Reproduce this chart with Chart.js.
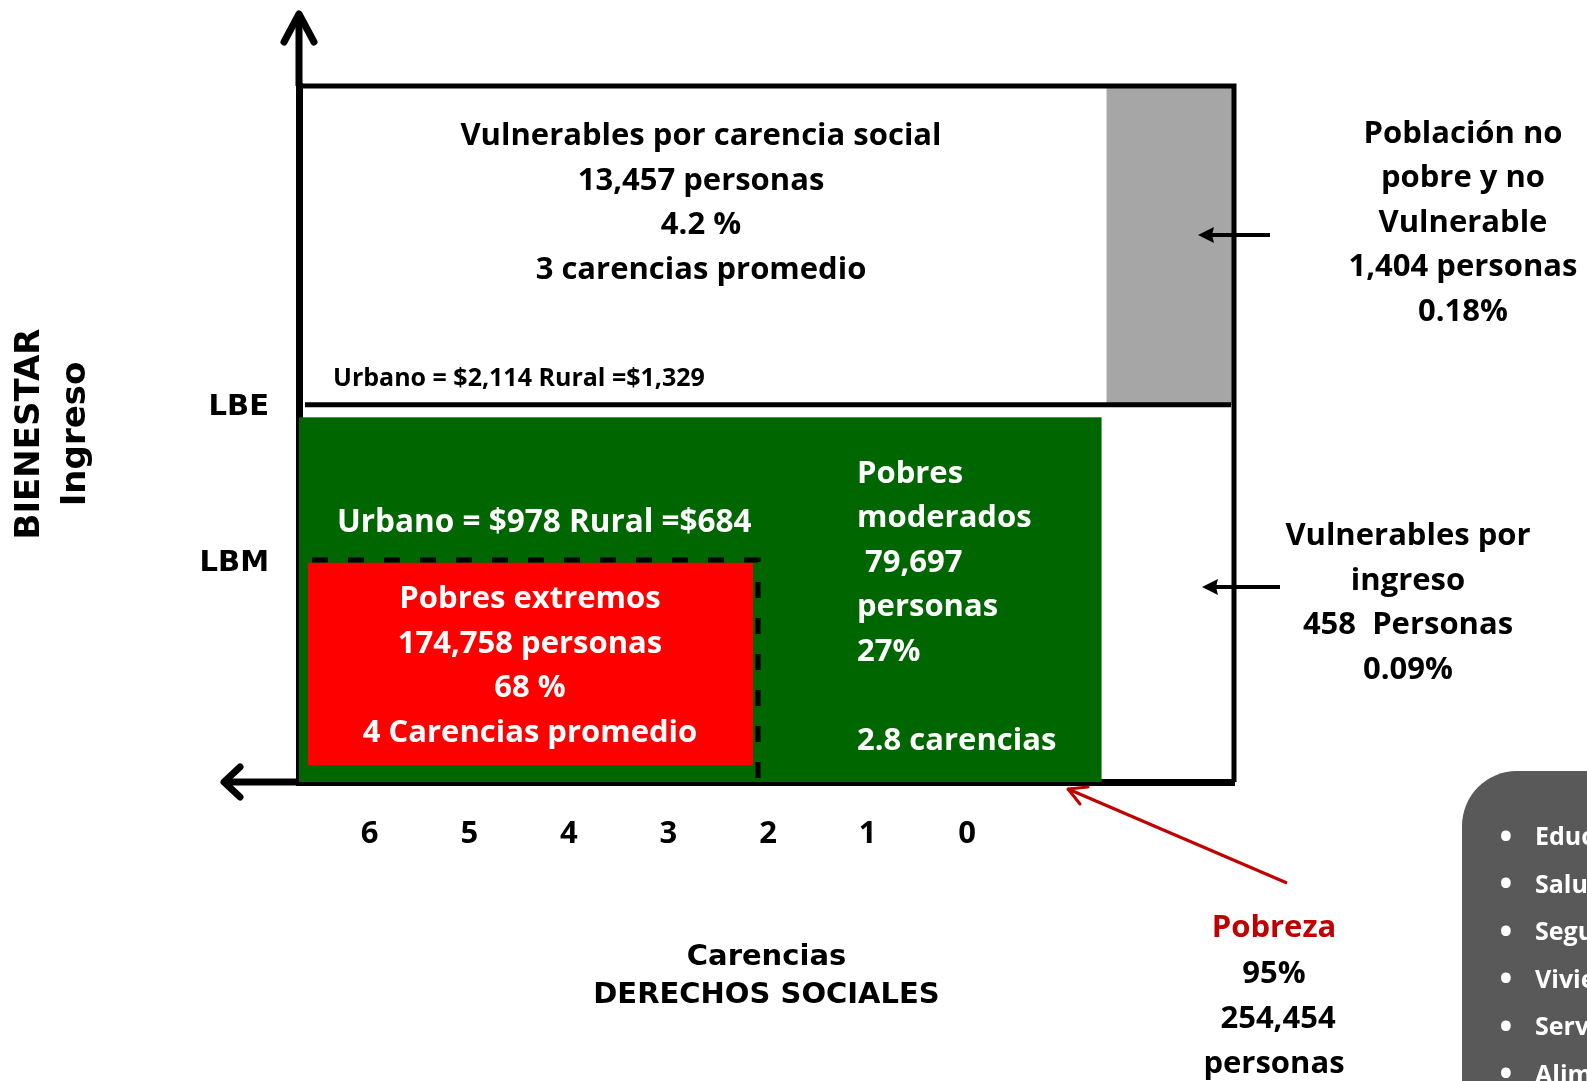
<!DOCTYPE html>
<html>
<head>
<meta charset="utf-8">
<script src="https://cdn.jsdelivr.net/npm/chart.js@4/dist/chart.umd.min.js"></script>
<style>
  html, body { margin: 0; padding: 0; background: #fff; }
  #wrap { width: 1587px; height: 1081px; }
</style>
</head>
<body>
<div id="wrap"><canvas id="chart" width="1587" height="1081"></canvas></div>
<script>
// ejes
const carencias = [6, 5, 4, 3, 2, 1, 0];
const lineasBienestar = ["LBE", "LBM"];
const nivelesIngreso = [54.2, 31.9]; // altura relativa de LBE y LBM en el eje de ingreso

// grupos
const grupos = ["Vulnerables por carencia social", "Pobres extremos", "Pobres moderados", "Población no pobre y no Vulnerable", "Vulnerables por ingreso"];
const personas = ["13,457", "174,758", "79,697", "1,404", "458"];
const porcentajes = ["4.2 %", "68 %", "27%", "0.18%", "0.09%"];
const carenciasPromedio = ["3", "4", "2.8"];
const umbrales = ["Urbano = $2,114 Rural =$1,329", "Urbano = $978 Rural =$684"];
const pobreza = ["95%", "254,454"];
const derechos = ["Educación", "Salud", "Seguridad social", "Vivienda", "Servicios básicos", "Alimentación"];

// zonas del diagrama en unidades de carencias (x) e ingreso (y)
const zonaModerados = { x: [6.71, -1.35], y: [0, 52.4] };
const zonaExtremos = { x: [6.62, 2.15], y: [2.4, 31.5] };
const zonaNoPobre = { x: [-1.40, -2.68], y: [nivelesIngreso[0], 100] };

const MAIN = "'Open Sans', Lato, sans-serif";
const VERD = "'DejaVu Sans', sans-serif";
const FS = 31;

function textLines(ctx, arr, x, y, lh, align, color, size) {
    ctx.save();
    ctx.font = "bold " + size + "px " + MAIN;
    ctx.fillStyle = color;
    ctx.textAlign = align;
    ctx.textBaseline = "middle";
    arr.forEach((t, i) => ctx.fillText(t, x, y + i * lh));
    ctx.restore();
}

function chevron(ctx, tip, a, b, color, width) {
    ctx.save();
    ctx.strokeStyle = color;
    ctx.lineWidth = width;
    ctx.lineCap = "round";
    ctx.lineJoin = "round";
    ctx.beginPath();
    ctx.moveTo(a[0], a[1]);
    ctx.lineTo(tip[0], tip[1]);
    ctx.lineTo(b[0], b[1]);
    ctx.stroke();
    ctx.restore();
}

function rect(ctx, sx, sy, zona, color) {
    const x0 = sx.getPixelForValue(zona.x[0]);
    const x1 = sx.getPixelForValue(zona.x[1]);
    const y0 = sy.getPixelForValue(zona.y[0]);
    const y1 = sy.getPixelForValue(zona.y[1]);
    ctx.fillStyle = color;
    ctx.fillRect(Math.min(x0, x1), Math.min(y0, y1), Math.abs(x1 - x0), Math.abs(y1 - y0));
}

const zonas = {
    id: "zonas",
    beforeDatasetsDraw(chart) {
        const {ctx, scales: {x, y}} = chart;
        ctx.save();
        rect(ctx, x, y, zonaNoPobre, "#a6a6a6");
        rect(ctx, x, y, zonaModerados, "#006600");
        rect(ctx, x, y, zonaExtremos, "#ff0000");
        ctx.restore();
    },
    afterDraw(chart) {
        const {ctx, chartArea: a} = chart;
        ctx.save();
        // extensiones de ejes con flecha
        ctx.strokeStyle = "#000";
        ctx.lineWidth = 7;
        ctx.beginPath();
        ctx.moveTo(a.left, a.top);
        ctx.lineTo(a.left, 14);
        ctx.moveTo(a.left, a.bottom);
        ctx.lineTo(224, a.bottom);
        ctx.stroke();
        chevron(ctx, [a.left, 14], [a.left - 15, 42], [a.left + 15, 42], "#000", 7);
        chevron(ctx, [224, a.bottom], [240, a.bottom - 15], [240, a.bottom + 15], "#000", 7);

        // flechas laterales
        [[1270, 1198, 235], [1280, 1202, 587]].forEach(([x0, x1, yy]) => {
            ctx.strokeStyle = "#000";
            ctx.lineWidth = 4;
            ctx.beginPath();
            ctx.moveTo(x0, yy);
            ctx.lineTo(x1 + 10, yy);
            ctx.stroke();
            ctx.fillStyle = "#000";
            ctx.beginPath();
            ctx.moveTo(x1, yy);
            ctx.lineTo(x1 + 16, yy - 8);
            ctx.lineTo(x1 + 14, yy);
            ctx.lineTo(x1 + 16, yy + 8);
            ctx.closePath();
            ctx.fill();
        });

        // flecha pobreza
        ctx.strokeStyle = "#c00000";
        ctx.lineWidth = 3;
        ctx.beginPath();
        ctx.moveTo(1287, 883);
        ctx.lineTo(1068, 789);
        ctx.stroke();
        chevron(ctx, [1068, 789], [1088, 787], [1080, 804], "#c00000", 3);

        // textos
        textLines(ctx, [grupos[0], personas[0] + " personas", porcentajes[0], carenciasPromedio[0] + " carencias promedio"], 701, 136, 44.7, "center", "#000", FS);
        textLines(ctx, [umbrales[0]], 333, 379, 0, "left", "#000", 25);
        textLines(ctx, [umbrales[1]], 337, 523, 0, "left", "#fff", 31.5);
        textLines(ctx, [grupos[1], personas[1] + " personas", porcentajes[1], carenciasPromedio[1] + " Carencias promedio"], 530, 599, 44.7, "center", "#fff", FS);
        textLines(ctx, ["Pobres", "moderados", " " + personas[2], "personas", porcentajes[2], "", carenciasPromedio[2] + " carencias"], 857, 474, 44.5, "left", "#fff", FS);
        textLines(ctx, ["Población no", "pobre y no", "Vulnerable", personas[3] + " personas", porcentajes[3]], 1463, 134, 44.5, "center", "#000", FS);
        textLines(ctx, ["Vulnerables por", "ingreso", personas[4] + "  Personas", porcentajes[4]], 1408, 536, 44.7, "center", "#000", FS);
        textLines(ctx, ["Pobreza"], 1274, 928, 0, "center", "#c00000", FS);
        textLines(ctx, [pobreza[0], " " + pobreza[1], "personas"], 1274, 974, 45, "center", "#000", FS);

        // recuadro de derechos sociales
        ctx.fillStyle = "#595959";
        ctx.beginPath();
        ctx.roundRect(1462, 771, 200, 400, 55);
        ctx.fill();
        derechos.forEach((d, i) => {
            textLines(ctx, ["•"], 1506, 838 + i * 47.5, 0, "center", "#fff", 34);
            textLines(ctx, [d], 1535, 838 + i * 47.5, 0, "left", "#fff", 25);
        });
        ctx.restore();
    }
};

new Chart(document.querySelector("#chart"), {
    type: "scatter",
    data: {
        datasets: [
            {
                // marco superior y derecho
                type: "line",
                data: [{x: 6.71, y: 100}, {x: -2.68, y: 100}, {x: -2.68, y: 0}],
                borderColor: "#000",
                borderWidth: 5,
                pointRadius: 0,
                clip: false
            },
            {
                // línea de bienestar
                type: "line",
                data: [{x: 6.65, y: nivelesIngreso[0]}, {x: -2.65, y: nivelesIngreso[0]}],
                borderColor: "#000",
                borderWidth: 5,
                pointRadius: 0
            },
            {
                // línea de bienestar mínimo
                type: "line",
                data: [{x: 6.58, y: nivelesIngreso[1]}, {x: 2.10, y: nivelesIngreso[1]}, {x: 2.10, y: 0}],
                borderColor: "#000",
                borderWidth: 5,
                borderDash: [16, 20],
                pointRadius: 0
            }
        ]
    },
    options: {
        responsive: false,
        animation: false,
        layout: { padding: { top: 86, right: 353, left: 0, bottom: 0 } },
        plugins: { legend: { display: false }, tooltip: { enabled: false } },
        scales: {
            x: {
                type: "linear",
                reverse: true,
                min: -2.68,
                max: 6.71,
                afterFit: s => { s.height = 299; },
                afterBuildTicks: s => { s.ticks = carencias.map(v => ({value: v})); },
                grid: { display: false, drawTicks: false },
                border: { display: true, color: "#000", width: 7 },
                ticks: {
                    autoSkip: false,
                    maxRotation: 0,
                    padding: 34,
                    color: "#000",
                    font: { family: MAIN, weight: "bold", size: 31 }
                },
                title: {
                    display: true,
                    text: ["Carencias", "DERECHOS SOCIALES"],
                    color: "#000",
                    font: { family: VERD, weight: "bold", size: 29, lineHeight: 1.31 },
                    padding: { top: 0, bottom: 67 }
                }
            },
            y: {
                type: "linear",
                min: 0,
                max: 100,
                afterFit: s => { s.width = 299; },
                afterBuildTicks: s => { s.ticks = nivelesIngreso.map(v => ({value: v})); },
                grid: { display: false, drawTicks: false },
                border: { display: true, color: "#000", width: 7 },
                ticks: {
                    autoSkip: false,
                    padding: 30,
                    labelOffset: 3,
                    color: "#000",
                    font: { family: VERD, weight: "bold", size: 29 },
                    callback: v => lineasBienestar[nivelesIngreso.indexOf(v)]
                },
                title: {
                    display: true,
                    text: ["BIENESTAR", "Ingreso"],
                    color: "#000",
                    font: { family: VERD, weight: "bold", size: 34, lineHeight: 1.35 },
                    padding: { top: 7, bottom: 0 }
                }
            }
        }
    },
    plugins: [zonas]
});
</script>
</body>
</html>
